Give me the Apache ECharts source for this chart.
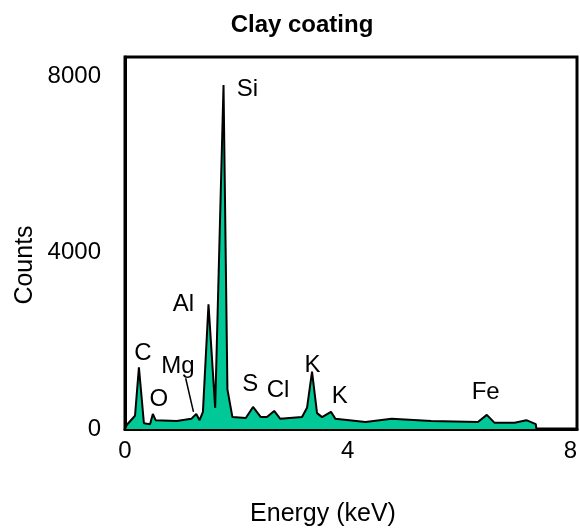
<!DOCTYPE html>
<html lang="en">
<head>
    <meta charset="UTF-8">
    <title>Clay coating</title>
    <script src="https://cdn.jsdelivr.net/npm/echarts@6/dist/echarts.min.js"></script>
    <style>
        body, html {
            margin: 0;
            padding: 0;
            background: #fff;
        }
        #main {
            width: 580px;
            height: 529px;
        }
    </style>
</head>
<body>
<div id="main"></div>
<script>
    // spectrum
    var energy = [0, 0.03, 0.18, 0.25, 0.34, 0.45, 0.5, 0.55, 0.93, 1.19, 1.28, 1.34, 1.4, 1.5, 1.62, 1.77, 1.84, 1.93,
        2.17, 2.3, 2.44, 2.55, 2.68, 2.79, 3.18, 3.27, 3.36, 3.45, 3.54, 3.7, 3.78, 4.32, 4.79, 5.5, 6.34, 6.5, 6.64,
        7.0, 7.21, 7.38, 7.39];
    var counts = [0, 90, 300, 1400, 130, 110, 340, 200, 180, 230, 340, 200, 390, 2830, 480, 7800, 900, 270,
        250, 500, 270, 270, 410, 230, 270, 480, 1300, 360, 270, 390, 230, 160, 230, 180, 160, 320, 140,
        140, 200, 110, 0];

    // element labels and where they sit (keV, counts)
    var peakNames = ['Si', 'Al', 'C', 'O', 'Mg', 'S', 'Cl', 'K', 'K', 'Fe'];
    var peakX = [2.2, 1.05, 0.32, 0.61, 0.95, 2.25, 2.75, 3.37, 3.86, 6.48];
    var peakY = [7710, 2830, 1720, 680, 1430, 1020, 880, 1450, 750, 820];

    // Mg pointer
    var mgLineX = [1.09, 1.23];
    var mgLineY = [1150, 390];

    var xTicks = [0, 4, 8];
    var yTicks = [0, 4000, 8000];

    var font = 'Arial, "Liberation Sans", sans-serif';

    var chart = echarts.init(document.getElementById('main'), null, {renderer: 'canvas'});

    var spectrum = energy.map(function (e, i) { return [e, counts[i]]; });
    var labels = peakNames.map(function (n, i) { return {name: n, value: [peakX[i], peakY[i]]}; });
    var pointer = mgLineX.map(function (x, i) { return [x, mgLineY[i]]; });

    var option = {
        animation: false,
        title: {
            text: 'Clay coating',
            left: 297,
            top: 8,
            textAlign: 'center',
            textStyle: {fontFamily: font, fontWeight: 'bold', fontSize: 24, color: '#000'}
        },
        grid: {
            left: 125,
            right: 0,
            top: 57,
            bottom: 100,
            show: true,
            borderColor: '#000',
            borderWidth: 3,
            containLabel: false
        },
        xAxis: {
            type: 'value',
            min: 0,
            max: 8.12,
            interval: 4,
            axisLine: {show: true, lineStyle: {color: '#000', width: 3}},
            axisTick: {show: false},
            splitLine: {show: false},
            axisLabel: {
                margin: 10,
                color: '#000',
                fontFamily: font,
                fontSize: 24,
                formatter: function (v) { return xTicks.indexOf(v) >= 0 ? String(v) : ''; }
            }
        },
        yAxis: {
            type: 'value',
            min: 0,
            max: 8435,
            interval: 4000,
            axisLine: {show: true, lineStyle: {color: '#000', width: 3}},
            axisTick: {show: false},
            splitLine: {show: false},
            axisLabel: {
                margin: 24,
                color: '#000',
                fontFamily: font,
                fontSize: 24,
                formatter: function (v) { return yTicks.indexOf(v) >= 0 ? String(v) : ''; }
            }
        },
        graphic: [
            {
                type: 'text',
                x: 25,
                y: 265,
                rotation: Math.PI / 2,
                style: {
                    text: 'Counts',
                    fill: '#000',
                    font: '25px ' + font,
                    textAlign: 'center',
                    textVerticalAlign: 'middle'
                }
            },
            {
                type: 'text',
                x: 323,
                y: 514,
                style: {
                    text: 'Energy (keV)',
                    fill: '#000',
                    font: '25px ' + font,
                    textAlign: 'center',
                    textVerticalAlign: 'middle'
                }
            }
        ],
        series: [
            {
                type: 'line',
                data: spectrum,
                symbol: 'none',
                smooth: false,
                lineStyle: {color: '#000', width: 2},
                areaStyle: {color: '#00C896', opacity: 1},
                z: 2
            },
            {
                type: 'line',
                data: pointer,
                symbol: 'none',
                lineStyle: {color: '#000', width: 1.5},
                z: 3
            },
            {
                type: 'scatter',
                data: labels,
                symbolSize: 0,
                silent: true,
                itemStyle: {opacity: 1, color: '#000'},
                label: {
                    show: true,
                    position: 'inside',
                    formatter: '{b}',
                    color: '#000',
                    opacity: 1,
                    fontFamily: font,
                    fontSize: 24
                },
                z: 4
            }
        ]
    };

    chart.setOption(option);
</script>
</body>
</html>
